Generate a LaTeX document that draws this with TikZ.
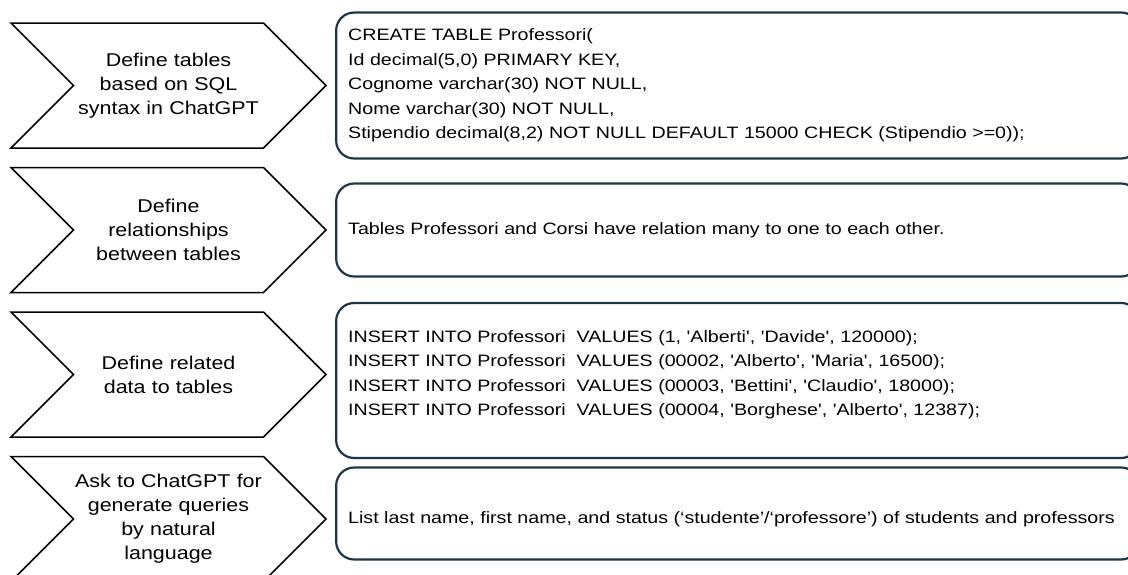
\documentclass[tikz,border=0pt]{standalone}
\usepackage{fontspec}
\setmainfont{Liberation Sans}
\newfontfamily\stagefont{Liberation Sans}[FakeStretch=1.16]
\newfontfamily\codefont{Liberation Sans}[FakeStretch=1.19]
\usepackage{xcolor}
\usetikzlibrary{shapes.symbols, positioning}
\definecolor{boxline}{HTML}{1C3547}
% text block lifted inside its box
\newcommand{\liftblock}[2]{\raisebox{#1}[\height][\depth]{\parbox{779pt}{\baselineskip=24.5pt #2}}}

\begin{document}
\begin{tikzpicture}[
  x=1pt, y=1pt,
  node distance=18pt,
  stage/.style={signal, signal to=east, signal from=west, signal pointer angle=90, draw=black, line width=1.5pt, minimum width=313pt, minimum height=125pt, inner sep=0pt, text width=190pt, align=center, font=\stagefont\fontsize{18.5}{24}\selectfont},
  detail/.style={draw=boxline, line width=2.2pt, rounded corners=18pt, text width=779pt, inner xsep=12pt, align=left, font=\codefont\fontsize{16.5}{24.5}\selectfont}
]
\useasboundingbox (0,0) rectangle (1128,-574);
\clip (0,0) rectangle (1128,-574);

\node[stage] (define) at (168.5,-85.5) {Define tables\\based on SQL\\syntax in ChatGPT};
\node[stage, below=of define] (relate) {Define\\relationships\\between tables};
\node[stage, below=of relate] (insert) {Define related\\data to tables};
\node[stage, below=of insert] (ask) {Ask to ChatGPT for\\generate queries\\by natural\\language};

% SQL boxes right
\node[detail, minimum height=146pt, right=8pt of define] (create) {CREATE TABLE Professori(\\Id decimal(5,0) PRIMARY KEY,\\Cognome varchar(30) NOT NULL,\\Nome varchar(30) NOT NULL,\\Stipendio decimal(8,2) NOT NULL DEFAULT 15000 CHECK (Stipendio >=0));};
\node[detail, minimum height=93pt, right=8pt of relate] (relation) {Tables Professori and Corsi have relation many to one to each other.};
\node[detail, minimum height=155pt, right=8pt of insert, yshift=-6pt] (values) {\liftblock{6pt}{INSERT INTO Professori~ VALUES (1, 'Alberti', 'Davide', 120000);\\INSERT INTO Professori~ VALUES (00002, 'Alberto', 'Maria', 16500);\\INSERT INTO Professori~ VALUES (00003, 'Bettini', 'Claudio', 18000);\\INSERT INTO Professori~ VALUES (00004, 'Borghese', 'Alberto', 12387);}};
\node[detail, minimum height=92pt, right=8pt of ask, yshift=5.5pt] (query) {\liftblock{-5.5pt}{List last name, first name, and status (‘studente’/‘professore’) of students and professors}};
\end{tikzpicture}
\end{document}
